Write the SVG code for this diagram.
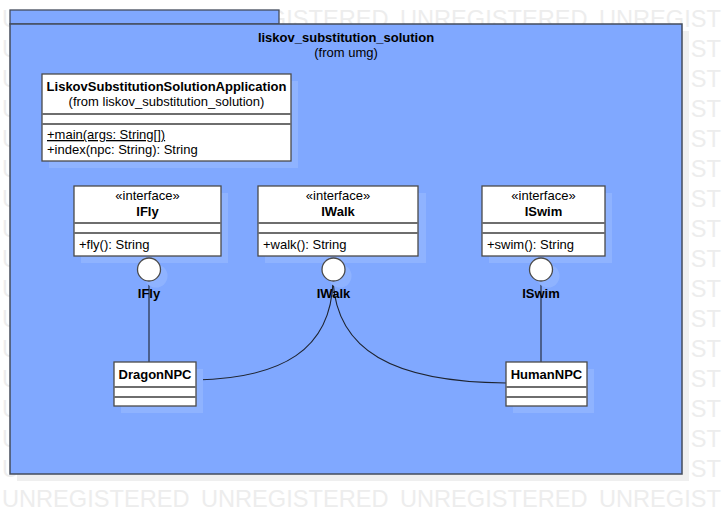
<svg xmlns="http://www.w3.org/2000/svg" width="722" height="514" viewBox="0 0 722 514">
<style>
.wm{font-family:"Liberation Sans",Arial,sans-serif;font-size:23.6px;fill:#ededed}
.t{font-family:"Liberation Sans",Arial,sans-serif;font-size:13px;fill:#000}
.b{font-weight:bold}
.box{fill:#fff;stroke:#4a4a4a;stroke-width:1.3}
.sep{stroke:#6e6e6e;stroke-width:1.8}
.sh{fill:#8fb3ff}
.conn{fill:none;stroke:#1e2430;stroke-width:1.1}
</style>
<rect width="722" height="514" fill="#fff"/>
<g id="watermark">
<text class="wm" x="2" y="27">UNREGISTERED</text><text class="wm" x="201" y="27">UNREGISTERED</text><text class="wm" x="400" y="27">UNREGISTERED</text><text class="wm" x="599" y="27">UNREGISTERED</text>
<text class="wm" x="2" y="57">UNREGISTERED</text><text class="wm" x="201" y="57">UNREGISTERED</text><text class="wm" x="400" y="57">UNREGISTERED</text><text class="wm" x="599" y="57">UNREGISTERED</text>
<text class="wm" x="2" y="87">UNREGISTERED</text><text class="wm" x="201" y="87">UNREGISTERED</text><text class="wm" x="400" y="87">UNREGISTERED</text><text class="wm" x="599" y="87">UNREGISTERED</text>
<text class="wm" x="2" y="117">UNREGISTERED</text><text class="wm" x="201" y="117">UNREGISTERED</text><text class="wm" x="400" y="117">UNREGISTERED</text><text class="wm" x="599" y="117">UNREGISTERED</text>
<text class="wm" x="2" y="147">UNREGISTERED</text><text class="wm" x="201" y="147">UNREGISTERED</text><text class="wm" x="400" y="147">UNREGISTERED</text><text class="wm" x="599" y="147">UNREGISTERED</text>
<text class="wm" x="2" y="177">UNREGISTERED</text><text class="wm" x="201" y="177">UNREGISTERED</text><text class="wm" x="400" y="177">UNREGISTERED</text><text class="wm" x="599" y="177">UNREGISTERED</text>
<text class="wm" x="2" y="207">UNREGISTERED</text><text class="wm" x="201" y="207">UNREGISTERED</text><text class="wm" x="400" y="207">UNREGISTERED</text><text class="wm" x="599" y="207">UNREGISTERED</text>
<text class="wm" x="2" y="237">UNREGISTERED</text><text class="wm" x="201" y="237">UNREGISTERED</text><text class="wm" x="400" y="237">UNREGISTERED</text><text class="wm" x="599" y="237">UNREGISTERED</text>
<text class="wm" x="2" y="267">UNREGISTERED</text><text class="wm" x="201" y="267">UNREGISTERED</text><text class="wm" x="400" y="267">UNREGISTERED</text><text class="wm" x="599" y="267">UNREGISTERED</text>
<text class="wm" x="2" y="297">UNREGISTERED</text><text class="wm" x="201" y="297">UNREGISTERED</text><text class="wm" x="400" y="297">UNREGISTERED</text><text class="wm" x="599" y="297">UNREGISTERED</text>
<text class="wm" x="2" y="327">UNREGISTERED</text><text class="wm" x="201" y="327">UNREGISTERED</text><text class="wm" x="400" y="327">UNREGISTERED</text><text class="wm" x="599" y="327">UNREGISTERED</text>
<text class="wm" x="2" y="357">UNREGISTERED</text><text class="wm" x="201" y="357">UNREGISTERED</text><text class="wm" x="400" y="357">UNREGISTERED</text><text class="wm" x="599" y="357">UNREGISTERED</text>
<text class="wm" x="2" y="387">UNREGISTERED</text><text class="wm" x="201" y="387">UNREGISTERED</text><text class="wm" x="400" y="387">UNREGISTERED</text><text class="wm" x="599" y="387">UNREGISTERED</text>
<text class="wm" x="2" y="417">UNREGISTERED</text><text class="wm" x="201" y="417">UNREGISTERED</text><text class="wm" x="400" y="417">UNREGISTERED</text><text class="wm" x="599" y="417">UNREGISTERED</text>
<text class="wm" x="2" y="447">UNREGISTERED</text><text class="wm" x="201" y="447">UNREGISTERED</text><text class="wm" x="400" y="447">UNREGISTERED</text><text class="wm" x="599" y="447">UNREGISTERED</text>
<text class="wm" x="2" y="477">UNREGISTERED</text><text class="wm" x="201" y="477">UNREGISTERED</text><text class="wm" x="400" y="477">UNREGISTERED</text><text class="wm" x="599" y="477">UNREGISTERED</text>
<text class="wm" x="2" y="507">UNREGISTERED</text><text class="wm" x="201" y="507">UNREGISTERED</text><text class="wm" x="400" y="507">UNREGISTERED</text><text class="wm" x="599" y="507">UNREGISTERED</text>
</g>
<g id="package">
<rect x="17" y="31" width="672" height="450" fill="#efefef"/>
<rect x="10" y="10" width="269" height="14" fill="#80a8ff" stroke="#444c5c" stroke-width="1.3"/>
<rect x="10" y="24" width="672" height="450" fill="#80a8ff" stroke="#444c5c" stroke-width="1.5"/>
<text class="t b" x="346" y="42" text-anchor="middle">liskov_substitution_solution</text>
<text class="t" x="346" y="57" text-anchor="middle">(from umg)</text>
</g>
<g id="connectors">
<line class="conn" x1="149" y1="281" x2="149" y2="362"/>
<line class="conn" x1="541" y1="281" x2="541" y2="362"/>
<path class="conn" d="M333,281 C331,350 282,378 196,380"/>
<path class="conn" d="M333,281 C337,350 392,382 506,383"/>
</g>
<g id="LiskovSubstitutionSolutionApplication">
<rect class="sh" x="49" y="81" width="249" height="87"/>
<rect class="box" x="42" y="74" width="249" height="87"/>
<line class="sep" x1="42" y1="114" x2="291" y2="114"/>
<line class="sep" x1="42" y1="124" x2="291" y2="124"/>
<text class="t b" x="166.5" y="91" text-anchor="middle">LiskovSubstitutionSolutionApplication</text>
<text class="t" x="166.5" y="106" text-anchor="middle">(from liskov_substitution_solution)</text>
<text class="t" x="47" y="139" text-decoration="underline">+main(args: String[])</text>
<text class="t" x="47" y="154">+index(npc: String): String</text>
</g>
<g id="IFly">
<rect class="sh" x="81" y="193" width="147" height="70"/>
<circle class="sh" cx="156" cy="276" r="11.5"/>
<rect class="box" x="74" y="186" width="147" height="70"/>
<line class="sep" x1="74" y1="223" x2="221" y2="223"/>
<line class="sep" x1="74" y1="233" x2="221" y2="233"/>
<text class="t" x="147.5" y="200" text-anchor="middle">«interface»</text>
<text class="t b" x="147.5" y="216" text-anchor="middle">IFly</text>
<text class="t" x="79" y="249">+fly(): String</text>
<circle class="box" cx="149" cy="269.5" r="11.5"/>
<text class="t b" x="149" y="298" text-anchor="middle">IFly</text>
</g>
<g id="IWalk">
<rect class="sh" x="265" y="193" width="161" height="70"/>
<circle class="sh" cx="340" cy="276" r="11.5"/>
<rect class="box" x="258" y="186" width="160" height="70"/>
<line class="sep" x1="258" y1="223" x2="418" y2="223"/>
<line class="sep" x1="258" y1="233" x2="418" y2="233"/>
<text class="t" x="338" y="200" text-anchor="middle">«interface»</text>
<text class="t b" x="338" y="216" text-anchor="middle">IWalk</text>
<text class="t" x="263" y="249">+walk(): String</text>
<circle class="box" cx="333.5" cy="269.5" r="11.5"/>
<text class="t b" x="333.5" y="298" text-anchor="middle">IWalk</text>
</g>
<g id="ISwim">
<rect class="sh" x="489" y="193" width="123" height="70"/>
<circle class="sh" cx="548" cy="276" r="11.5"/>
<rect class="box" x="482" y="186" width="123" height="70"/>
<line class="sep" x1="482" y1="223" x2="605" y2="223"/>
<line class="sep" x1="482" y1="233" x2="605" y2="233"/>
<text class="t" x="543.5" y="200" text-anchor="middle">«interface»</text>
<text class="t b" x="543.5" y="216" text-anchor="middle">ISwim</text>
<text class="t" x="487" y="249">+swim(): String</text>
<circle class="box" cx="541" cy="269.5" r="11.5"/>
<text class="t b" x="541" y="298" text-anchor="middle">ISwim</text>
</g>
<g id="DragonNPC">
<rect class="sh" x="121" y="369" width="82" height="44"/>
<rect class="box" x="114" y="362" width="82" height="44"/>
<line class="sep" x1="114" y1="387" x2="196" y2="387"/>
<line class="sep" x1="114" y1="397" x2="196" y2="397"/>
<text class="t b" x="155" y="379" text-anchor="middle">DragonNPC</text>
</g>
<g id="HumanNPC">
<rect class="sh" x="513" y="369" width="81" height="44"/>
<rect class="box" x="506" y="362" width="81" height="44"/>
<line class="sep" x1="506" y1="387" x2="587" y2="387"/>
<line class="sep" x1="506" y1="397" x2="587" y2="397"/>
<text class="t b" x="546.5" y="379" text-anchor="middle">HumanNPC</text>
</g>
</svg>
